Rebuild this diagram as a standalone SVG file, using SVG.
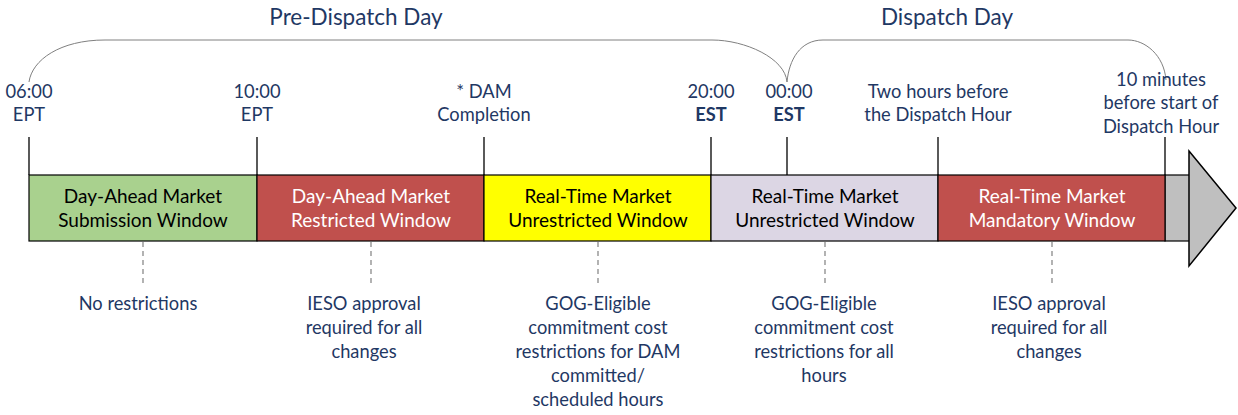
<svg xmlns="http://www.w3.org/2000/svg" width="1238" height="415" viewBox="0 0 1238 415">
<style>
text{font-family:Lato,"Liberation Sans",sans-serif;}
.t{font-size:18.3px;fill:#1f3864;text-anchor:middle;}
.h{font-size:22.5px;fill:#1f3864;text-anchor:middle;}
.b{font-size:19px;text-anchor:middle;fill:#000;}
.w{fill:#fff;}
.box{stroke:#000;stroke-width:1.2;}
.tick{stroke:#000;stroke-width:1.3;fill:none;}
.dash{stroke:#808080;stroke-width:1.2;stroke-dasharray:5 4;fill:none;}
.brace{stroke:#808080;stroke-width:1;fill:none;}
.bd{font-weight:bold;}
</style>
<rect width="1238" height="415" fill="#fff"/>
<g id="connectors">
<path class="brace" d="M29,82 C32,60 60,40 105,40 L712,40 C745,40 785,58 787,82"/>
<path class="brace" d="M787,82 C789,60 800,40 823,40 L1128,40 C1145,40 1164,55 1166,80"/>
<line class="tick" x1="29" y1="137" x2="29" y2="175"/>
<line class="tick" x1="257" y1="137" x2="257" y2="175"/>
<line class="tick" x1="484" y1="137" x2="484" y2="175" stroke-width="2"/>
<line class="tick" x1="711" y1="137" x2="711" y2="175"/>
<line class="tick" x1="787" y1="137" x2="787" y2="175"/>
<line class="tick" x1="938" y1="137" x2="938" y2="175"/>
<line class="tick" x1="1165" y1="137" x2="1165" y2="175"/>
<line class="dash" x1="143" y1="242" x2="143" y2="284"/>
<line class="dash" x1="371" y1="242" x2="371" y2="284"/>
<line class="dash" x1="598" y1="242" x2="598" y2="284"/>
<line class="dash" x1="825" y1="242" x2="825" y2="284"/>
<line class="dash" x1="1052" y1="242" x2="1052" y2="284"/>
</g>
<g id="titles">
<text class="h" x="356" y="25">Pre-Dispatch Day</text>
<text class="h" x="947" y="25">Dispatch Day</text>
</g>
<g id="labels">
<text class="t" x="29" y="98">06:00</text><text class="t" x="29" y="121">EPT</text>
<text class="t" x="257" y="98">10:00</text><text class="t" x="257" y="121">EPT</text>
<text class="t" x="484" y="98">* DAM</text><text class="t" x="484" y="121">Completion</text>
<text class="t" x="711" y="98">20:00</text><text class="t bd" x="711" y="121">EST</text>
<text class="t" x="789" y="98">00:00</text><text class="t bd" x="789" y="121">EST</text>
<text class="t" x="938" y="98">Two hours before</text><text class="t" x="938" y="121">the Dispatch Hour</text>
<text class="t" x="1161" y="86">10 minutes</text><text class="t" x="1161" y="109">before start of</text><text class="t" x="1161" y="133">Dispatch Hour</text>
</g>
<g id="arrow">
<rect x="1165" y="175" width="28" height="66" fill="#bfbfbf" class="box"/>
<polygon points="1189,151 1236,208 1189,266" fill="#bfbfbf" stroke="#000" stroke-width="1.5"/>
</g>
<g id="w1"><rect class="box" x="29" y="175" width="228" height="66" fill="#a9d18e"/>
<text class="b" x="143" y="203">Day-Ahead Market</text><text class="b" x="143" y="227">Submission Window</text></g>
<g id="w2"><rect class="box" x="257" y="175" width="227" height="66" fill="#c0504d"/>
<text class="b w" x="371" y="203">Day-Ahead Market</text><text class="b w" x="371" y="227">Restricted Window</text></g>
<g id="w3"><rect class="box" x="484" y="175" width="227" height="66" fill="#ffff00"/>
<text class="b" x="598" y="203">Real-Time Market</text><text class="b" x="598" y="227">Unrestricted Window</text></g>
<g id="w4"><rect class="box" x="711" y="175" width="227" height="66" fill="#dcd6e4"/>
<text class="b" x="825" y="203">Real-Time Market</text><text class="b" x="825" y="227">Unrestricted Window</text></g>
<g id="w5"><rect class="box" x="938" y="175" width="227" height="66" fill="#c0504d"/>
<text class="b w" x="1052" y="203">Real-Time Market</text><text class="b w" x="1052" y="227">Mandatory Window</text></g>
<g id="notes">
<text class="t" x="138" y="310">No restrictions</text>
<text class="t" x="364" y="310">IESO approval</text><text class="t" x="364" y="334">required for all</text><text class="t" x="364" y="358">changes</text>
<text class="t" x="598" y="310">GOG-Eligible</text><text class="t" x="598" y="334">commitment cost</text><text class="t" x="598" y="358">restrictions for DAM</text><text class="t" x="598" y="382">committed/</text><text class="t" x="598" y="406">scheduled hours</text>
<text class="t" x="824" y="310">GOG-Eligible</text><text class="t" x="824" y="334">commitment cost</text><text class="t" x="824" y="358">restrictions for all</text><text class="t" x="824" y="382">hours</text>
<text class="t" x="1049" y="310">IESO approval</text><text class="t" x="1049" y="334">required for all</text><text class="t" x="1049" y="358">changes</text>
</g>
</svg>
